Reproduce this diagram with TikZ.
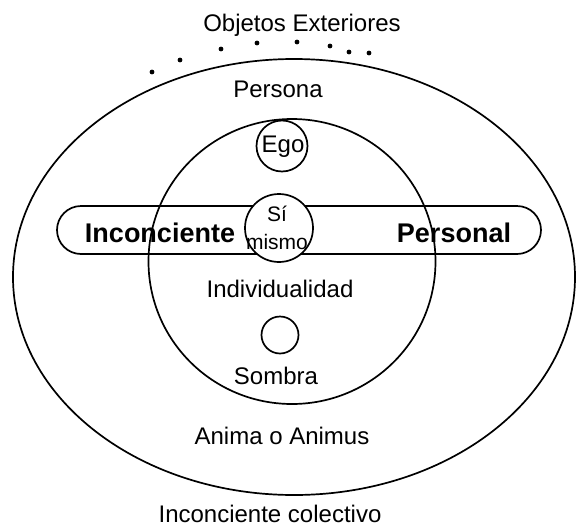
\documentclass[tikz,border=0pt]{standalone}
\usepackage{fontspec}
\setmainfont{Liberation Sans}
\usetikzlibrary{shapes.misc,shapes.geometric}
\tikzset{
  ln/.style={line width=1.7pt, black},
  lbl/.style={inner sep=0pt, font=\fontsize{24}{28}\selectfont},
  blbl/.style={inner sep=0pt, font=\fontsize{27}{30}\selectfont\bfseries},
  dotmark/.style={circle, fill=black, inner sep=0pt, minimum size=4.8pt},
  ring/.style={circle, draw, ln, inner sep=0pt},
}
\begin{document}
\begin{tikzpicture}[x=1pt,y=-1pt]
\useasboundingbox (0,0) rectangle (576,528);
% outer ellipse and inner circle
\node[ellipse, draw, ln, minimum width=562pt, minimum height=436pt, inner sep=0pt] (outer) at (294,277) {};
\node[ellipse, draw, ln, minimum width=287pt, minimum height=285pt, inner sep=0pt] (inner) at (292,261.5) {};
% pill
\node[rounded rectangle, draw, ln, minimum width=484pt, minimum height=48pt, inner sep=0pt] (pill) at (299,230) {};
% texts
\node[lbl] (obj) at (302,25) {Objetos Exteriores};
\node[lbl] (pers) at (278,89) {Persona};
\node[ring, minimum size=51pt] (egoc) at (282,146) {};
\node[lbl] (ego) at (283,147) {Ego};
\node[blbl] (inc) at (160,233) {Inconciente};
\node[blbl] (perl) at (454,233) {Personal};
\node[ring, fill=white, minimum size=68pt] (sic) at (279,228) {};
\node[inner sep=0pt, align=center, font=\fontsize{21}{28}\selectfont] (si) at (277,228) {Sí\\mismo};
\node[lbl] (ind) at (280,288.5) {Individualidad};
\node[ring, minimum size=37pt] (sombc) at (280,335) {};
\node[lbl] (somb) at (276,376) {Sombra};
\node[lbl] (anima) at (282,436) {Anima o Animus};
\node[lbl] (colec) at (270,514) {Inconciente colectivo};
% dots
\foreach \px/\py [count=\i] in {152/72,180/60,221/49,257/43,297/42,330/46,349/52,369/53}
  \node[dotmark] (d\i) at (\px,\py) {};
\end{tikzpicture}
\end{document}
